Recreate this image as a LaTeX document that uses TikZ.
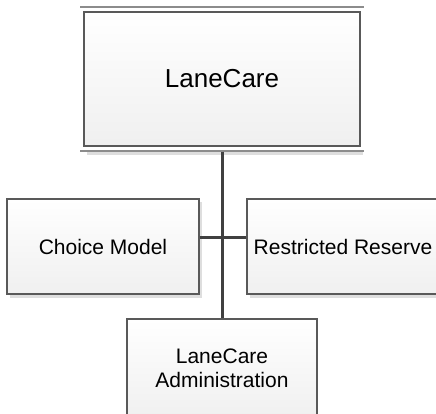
\documentclass[tikz,border=0pt]{standalone}
\usepackage{fontspec}
\setmainfont{Liberation Sans}
\usetikzlibrary{calc}
\definecolor{borderc}{HTML}{595959}
\definecolor{linec}{HTML}{404040}
\definecolor{shadowc}{HTML}{DEDEDE}
\definecolor{dbl}{HTML}{8C8C8C}
\tikzset{
  orgbox/.style={draw=borderc, line width=1.1pt, top color=white, bottom color=black!6,
    inner sep=0pt, align=center, font=\fontsize{21}{24}\selectfont},
  boxshadow/.style={fill=shadowc, draw=none},
  conn/.style={draw=linec, line width=3pt}
}
\begin{document}
\begin{tikzpicture}[x=1pt,y=-1pt]
\useasboundingbox (0,0) rectangle (436,413);
\clip (0,0) rectangle (436,413);
% shadows
\fill[boxshadow] (87,150) rectangle (363,155);
\fill[boxshadow] (10,202) rectangle (202,298);
\fill[boxshadow] (250,202) rectangle (442,298);
% top double lines
\draw[dbl, line width=1.1pt] (80,7) -- (364,7);
\draw[dbl, line width=1.1pt] (80,151) -- (364,151);
% nodes
\node[orgbox, minimum width=276pt, minimum height=134pt, font=\fontsize{26}{30}\selectfont] (top) at (222,79) {LaneCare};
\node[orgbox, minimum width=192pt, minimum height=95pt] (choice) at (103,246.5) {Choice Model};
\node[orgbox, minimum width=192pt, minimum height=95pt] (rr) at (343,246.5) {Restricted Reserve};
\node[orgbox, minimum width=190pt, minimum height=99pt] (admin) at (222,368.5) {LaneCare\\Administration};
% connectors
\coordinate (tb) at ($(top.south)+(0,5)$);
\draw[conn] (tb) -- (admin.north);
\draw[conn] ($(choice.north east)!0.41!(choice.south east)$) -- ($(rr.north west)!0.41!(rr.south west)$);
\end{tikzpicture}
\end{document}
